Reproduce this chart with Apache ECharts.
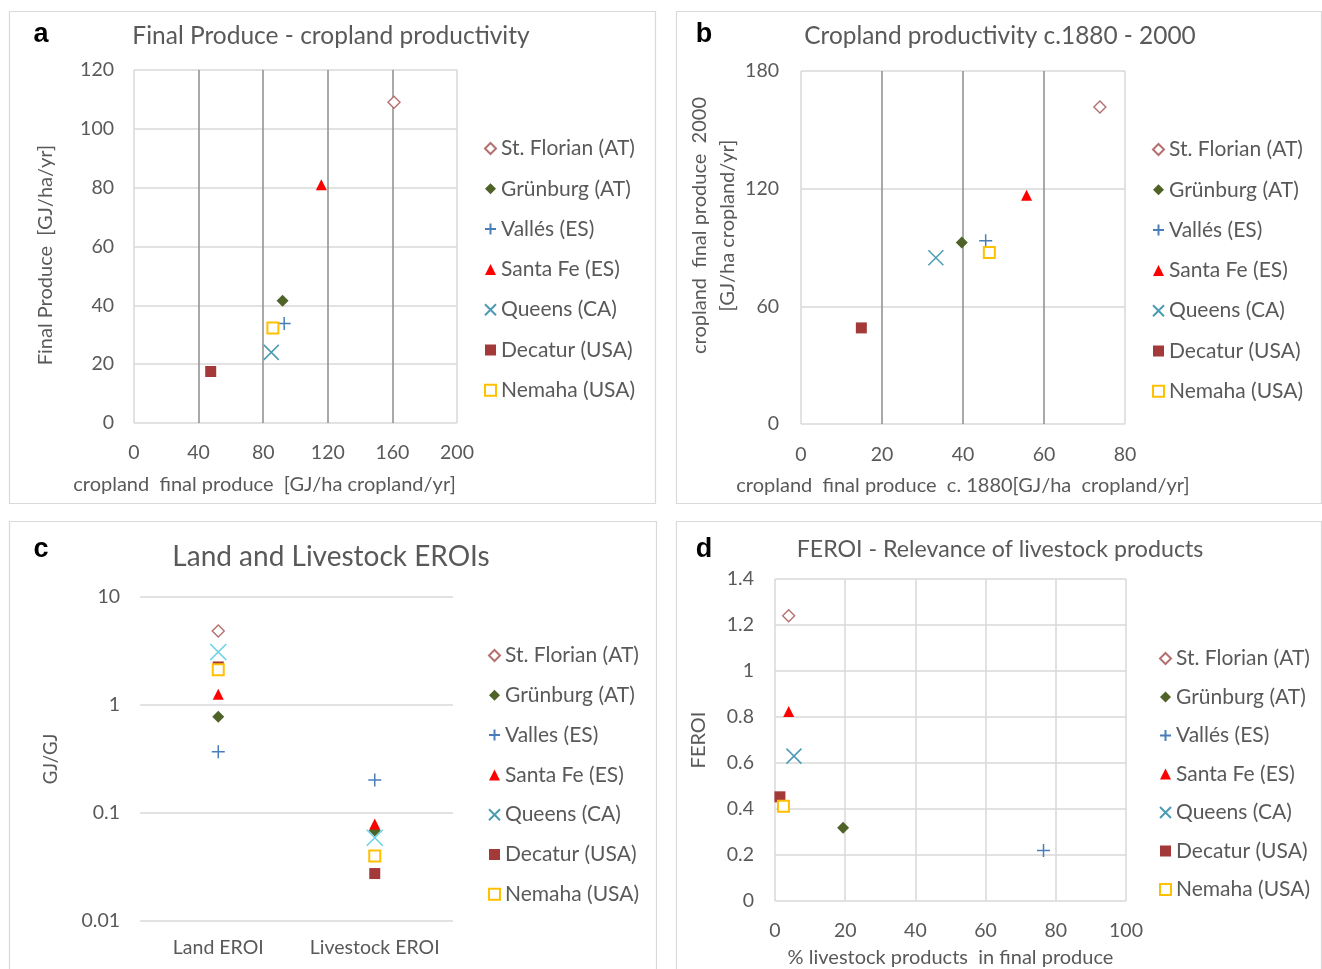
<!DOCTYPE html>
<html>
<head>
<meta charset="utf-8">
<script src="https://cdn.jsdelivr.net/npm/echarts@6/dist/echarts.min.js"></script>
<style>
html,body{margin:0;padding:0;background:#fff;}
#chart{width:1322px;height:969px;}
</style>
</head>
<body>
<div id="chart"></div>
<script>
// ---------- data ----------
const seriesNames  = ['St. Florian (AT)','Grünburg (AT)','Vallés (ES)','Santa Fe (ES)','Queens (CA)','Decatur (USA)','Nemaha (USA)'];
const seriesNamesC = ['St. Florian (AT)','Grünburg (AT)','Valles (ES)','Santa Fe (ES)','Queens (CA)','Decatur (USA)','Nemaha (USA)'];

// panel a: cropland final produce (x) vs final produce (y)
const aX = [161, 92, 93, 116, 85, 47.5, 86];
const aY = [109, 41.6, 33.8, 81, 24, 17.5, 32.3];

// panel b: cropland final produce c.1880 (x) vs 2000 (y)
const bX = [73.8, 39.7, 45.6, 55.7, 33.3, 14.9, 46.5];
const bY = [161.7, 92.6, 93.5, 116.7, 84.8, 49, 87.5];

// panel c: EROIs (log scale)
const cCategories = ['Land EROI', 'Livestock EROI'];
const cLand      = [4.84, 0.78, 0.37, 1.26, 3.1, 2.25, 2.12];
const cLivestock = [null, 0.069, 0.202, 0.079, 0.059, 0.0275, 0.040];

// panel d: % livestock products (x) vs FEROI (y)
const dX = [3.9, 19.4, 76.5, 3.9, 5.4, 1.4, 2.4];
const dY = [1.24, 0.318, 0.22, 0.824, 0.63, 0.453, 0.412];

// axis ticks
const aXTicks = {min:0, max:200, interval:40};
const aYTicks = {min:0, max:120, interval:20};
const bXTicks = {min:0, max:80, interval:20};
const bYTicks = {min:0, max:180, interval:60};
const cYTicks = {min:0.01, max:10};
const dXTicks = {min:0, max:100, interval:20};
const dYTicks = {min:0, max:1.4, interval:0.2};

// ---------- styles ----------
const FONT = 'Lato';
const GRAY = '#595959';
const LIGHT = '#d9d9d9';
const DARK = '#8c8c8c';
const PLUS = 'path://M0,5L10,5M5,0L5,10';
const CROSS = 'path://M0,0L10,10M10,0L0,10';
const markerStyles = [
  {symbol:'diamond', size:12, color:'#ffffff', border:'#b56f6f', bw:1.4},
  {symbol:'diamond', size:12, color:'#4f6228', border:'#4f6228', bw:0},
  {symbol:PLUS, size:13, color:'rgba(0,0,0,0)', border:'#4a7ebb', bw:1.5},
  {symbol:'triangle', size:11, color:'#ff0000', border:'#ff0000', bw:0},
  {symbol:CROSS, size:15, color:'rgba(0,0,0,0)', border:'#4b9cb3', bw:1.5},
  {symbol:'rect', size:11, color:'#a33939', border:'#a33939', bw:0},
  {symbol:'rect', size:11, color:'#ffffff', border:'#ffc000', bw:2}
];
const queensC = '#66d0ea';

function mkSeries(names, idx, dataFn, overrides) {
  return names.map((n, i) => {
    const s = Object.assign({}, markerStyles[i], (overrides && overrides[i]) || {});
    return {
      type: 'scatter', name: n, xAxisIndex: idx, yAxisIndex: idx,
      symbol: s.symbol, symbolSize: s.size,
      itemStyle: {color: s.color, borderColor: s.border, borderWidth: s.bw, opacity: 1},
      emphasis: {disabled: true},
      data: dataFn(i),
      z: 2 + i
    };
  });
}

const series = []
  .concat(mkSeries(seriesNames, 0, i => [[aX[i], aY[i]]]))
  .concat(mkSeries(seriesNames, 1, i => [[bX[i], bY[i]]]))
  .concat(mkSeries(seriesNamesC, 2, i => {
      const out = [];
      if (cLand[i] != null) out.push([cCategories[0], cLand[i]]);
      if (cLivestock[i] != null) out.push([cCategories[1], cLivestock[i]]);
      return out;
    }, {4: {border: queensC, size: 16}}))
  .concat(mkSeries(seriesNames, 3, i => [[dX[i], dY[i]]]));

const axisLabelStyle = {color: GRAY, fontSize: 19.5, fontFamily: FONT};
const nameStyle = {color: GRAY, fontSize: 20, fontFamily: FONT};

function valAxis(ticks, grid, extra) {
  return Object.assign({
    type: 'value', gridIndex: grid,
    min: ticks.min, max: ticks.max, interval: ticks.interval,
    axisLine: {show: false}, axisTick: {show: false},
    axisLabel: Object.assign({margin: 20}, axisLabelStyle),
    splitLine: {show: true, showMinLine: true, showMaxLine: true, lineStyle: {color: LIGHT, width: 1.5}},
    nameTextStyle: nameStyle, nameLocation: 'middle'
  }, extra || {});
}

function legend(names, left, top, gap) {
  return {
    orient: 'vertical', left: left, top: top, padding: 0, itemWidth: 11, itemHeight: 11, itemGap: gap,
    selectedMode: false,
    data: names,
    textStyle: {color: GRAY, fontSize: 21, fontFamily: FONT, lineHeight: 20}
  };
}

function txt(x, y, text, font, fill, rotation) {
  const el = {type: 'text', x: x, y: y, silent: true,
    style: {text: text, font: font, fill: fill, textAlign: 'center', textVerticalAlign: 'middle', align: 'center', verticalAlign: 'middle'}};
  if (rotation) el.rotation = rotation;
  return el;
}
function box(x, y, w, h) {
  return {type: 'rect', silent: true, z: -10, shape: {x: x, y: y, width: w, height: h},
    style: {fill: 'none', stroke: '#d9d9d9', lineWidth: 1.2}};
}

const option = {
  backgroundColor: '#fff',
  animation: false,
  grid: [
    {left: 134, top: 70, width: 323, height: 353},
    {left: 801, top: 71, width: 324, height: 353},
    {left: 140, top: 597, width: 313, height: 324},
    {left: 775, top: 579, width: 351, height: 324}
  ],
  xAxis: [
    valAxis(aXTicks, 0, {name: 'cropland  final produce  [GJ/ha cropland/yr]', nameGap: 52,
      nameTextStyle: Object.assign({padding: [0, 62, 0, 0]}, nameStyle),
      splitLine: {show: true, showMinLine: true, showMaxLine: true, lineStyle: {color: [LIGHT, DARK, DARK, DARK, DARK, LIGHT], width: 1.5}}}),
    valAxis(bXTicks, 1, {name: 'cropland  final produce  c. 1880[GJ/ha  cropland/yr]', nameGap: 52,
      axisLabel: Object.assign({margin: 21}, axisLabelStyle),
      splitLine: {show: true, showMinLine: true, showMaxLine: true, lineStyle: {color: [LIGHT, DARK, DARK, DARK, LIGHT], width: 1.5}}}),
    {type: 'category', gridIndex: 2, data: cCategories, boundaryGap: true,
      axisLine: {show: false}, axisTick: {show: false}, splitLine: {show: false},
      axisLabel: Object.assign({margin: 17, interval: 0, hideOverlap: false}, axisLabelStyle)},
    valAxis(dXTicks, 3, {name: '% livestock products  in final produce', nameGap: 47})
  ],
  yAxis: [
    valAxis(aYTicks, 0, {name: 'Final Produce  [GJ/ha/yr]', nameGap: 78, nameTextStyle: Object.assign({padding: [0, 17, 0, 0]}, nameStyle)}),
    valAxis(bYTicks, 1, {name: 'cropland  final produce  2000\n[GJ/ha cropland/yr]', nameGap: 59,
      axisLabel: Object.assign({margin: 22}, axisLabelStyle),
      nameTextStyle: Object.assign({lineHeight: 28, padding: [0, 0, 0, 44]}, nameStyle)}),
    {type: 'log', logBase: 10, gridIndex: 2, min: cYTicks.min, max: cYTicks.max,
      axisLine: {show: false}, axisTick: {show: false},
      axisLabel: Object.assign({margin: 20, formatter: v => String(Number(Number(v).toPrecision(3)))}, axisLabelStyle),
      splitLine: {show: true, showMinLine: true, showMaxLine: true, lineStyle: {color: LIGHT, width: 1.5}},
      name: 'GJ/GJ', nameLocation: 'middle', nameGap: 79, nameTextStyle: Object.assign({}, nameStyle, {fontSize: 18.5})},
    valAxis(dYTicks, 3, {name: 'FEROI', nameGap: 66, axisLabel: Object.assign({margin: 21}, axisLabelStyle)})
  ],
  legend: [
    legend(seriesNames, 484, 138, 19.3),
    legend(seriesNames, 1152, 139, 19.3),
    legend(seriesNamesC, 488, 645, 18.8),
    legend(seriesNames, 1159, 648, 17.5)
  ],
  graphic: [
    box(9.5, 11.5, 646, 492),
    box(676.5, 11.5, 645, 492),
    box(9.5, 521.5, 647, 470),
    box(676.5, 521.5, 645, 470),
    txt(41, 35, 'a', 'bold 27px "Liberation Sans", Arial', '#000'),
    txt(704, 35, 'b', 'bold 27px "Liberation Sans", Arial', '#000'),
    txt(41, 550, 'c', 'bold 27px "Liberation Sans", Arial', '#000'),
    txt(704, 550, 'd', 'bold 27px "Liberation Sans", Arial', '#000'),
    txt(331, 36, 'Final Produce - cropland productivity', '24.5px ' + FONT, GRAY),
    txt(1000, 36, 'Cropland productivity c.1880 - 2000', '24.4px ' + FONT, GRAY),
    txt(331, 557, 'Land and Livestock EROIs', '28px ' + FONT, GRAY),
    txt(1000, 550, 'FEROI - Relevance of livestock products', '23.2px ' + FONT, GRAY)
  ],
  series: series
};

const chart = echarts.init(document.getElementById('chart'), null, {renderer: 'canvas'});
chart.setOption(option);
</script>
</body>
</html>
